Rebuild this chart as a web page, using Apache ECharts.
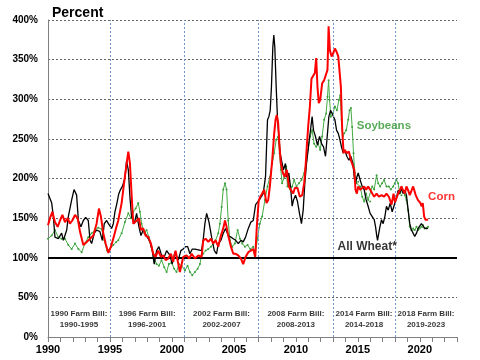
<!DOCTYPE html>
<html><head><meta charset="utf-8">
<script src="https://cdn.jsdelivr.net/npm/echarts@6/dist/echarts.min.js"></script>
<style>html,body{margin:0;padding:0;background:#fff}#c{width:480px;height:360px}</style>
</head><body><div id="c"></div><script>
const wheatYears=[1990.00,1990.30,1990.43,1990.56,1990.83,1991.10,1991.24,1991.51,1991.64,1991.91,1992.10,1992.31,1992.45,1992.66,1992.85,1993.04,1993.25,1993.39,1993.52,1993.74,1993.92,1994.19,1994.38,1994.54,1994.73,1994.87,1995.13,1995.27,1995.40,1995.55,1995.70,1995.85,1996.00,1996.20,1996.34,1996.48,1996.61,1996.74,1996.96,1997.15,1997.34,1997.50,1997.68,1997.95,1998.22,1998.41,1998.57,1998.76,1998.95,1999.16,1999.38,1999.57,1999.84,2000.02,2000.24,2000.51,2000.72,2000.91,2001.10,2001.27,2001.45,2001.64,2001.86,2002.13,2002.39,2002.53,2002.66,2002.80,2002.99,2003.20,2003.42,2003.60,2003.74,2003.95,2004.14,2004.33,2004.54,2004.76,2004.95,2005.14,2005.35,2005.57,2005.75,2005.94,2006.16,2006.37,2006.56,2006.75,2006.91,2007.05,2007.20,2007.36,2007.55,2007.71,2007.82,2007.93,2008.03,2008.14,2008.22,2008.30,2008.41,2008.52,2008.63,2008.73,2008.84,2009.00,2009.16,2009.27,2009.43,2009.59,2009.70,2009.81,2009.97,2010.13,2010.29,2010.45,2010.59,2010.72,2010.86,2011.04,2011.21,2011.31,2011.42,2011.58,2011.74,2011.91,2012.07,2012.23,2012.39,2012.55,2012.66,2012.80,2012.95,2013.15,2013.28,2013.42,2013.55,2013.68,2013.82,2013.95,2014.11,2014.28,2014.44,2014.60,2014.71,2014.81,2014.92,2015.03,2015.19,2015.35,2015.51,2015.67,2015.83,2015.99,2016.16,2016.32,2016.43,2016.53,2016.59,2016.70,2016.78,2016.91,2017.04,2017.18,2017.31,2017.45,2017.61,2017.77,2017.93,2018.11,2018.25,2018.38,2018.52,2018.65,2018.79,2018.92,2019.06,2019.19,2019.32,2019.46,2019.59,2019.73,2019.86,2019.99,2020.13,2020.27,2020.40,2020.53,2020.67];
const wheatValues=[181,169,152,126,124,131,122,135,152,173,186,179,147,139,147,151,147,122,118,131,135,133,122,143,147,143,137,143,158,168,180,186,190,200,222,211,177,152,143,156,139,128,135,128,120,109,92,109,114,103,101,109,103,92,107,97,109,111,114,114,105,111,111,110,109,124,143,156,145,126,109,105,118,122,131,137,128,126,124,122,118,122,120,126,137,145,147,167,165,173,175,181,202,274,278,286,316,366,381,366,316,274,253,232,223,211,219,202,207,186,165,173,179,171,156,143,160,194,219,244,265,278,261,253,242,253,244,240,228,257,278,286,284,274,261,257,249,240,232,236,228,223,228,219,202,194,202,207,198,190,186,173,165,156,152,148,139,127,122,132,139,148,143,152,165,160,169,158,160,175,185,181,188,181,185,179,160,143,135,131,127,131,137,139,143,141,137,135,137];

const cornYears=[1990.00,1990.16,1990.35,1990.56,1990.78,1990.97,1991.16,1991.37,1991.59,1991.77,1991.96,1992.18,1992.39,1992.58,1992.85,1993.12,1993.39,1993.66,1993.92,1994.11,1994.27,1994.46,1994.65,1994.87,1995.08,1995.30,1995.50,1995.67,1995.94,1996.21,1996.39,1996.48,1996.61,1996.74,1996.88,1997.01,1997.17,1997.34,1997.50,1997.68,1997.87,1998.09,1998.30,1998.49,1998.68,1998.89,1999.11,1999.30,1999.49,1999.70,1999.92,2000.10,2000.29,2000.45,2000.64,2000.91,2001.18,2001.40,2001.59,2001.86,2002.13,2002.39,2002.53,2002.72,2002.93,2003.15,2003.33,2003.52,2003.74,2003.95,2004.14,2004.28,2004.41,2004.54,2004.76,2004.95,2005.14,2005.35,2005.57,2005.75,2005.94,2006.16,2006.37,2006.56,2006.72,2006.85,2007.00,2007.12,2007.28,2007.44,2007.63,2007.77,2007.90,2008.09,2008.25,2008.36,2008.46,2008.57,2008.68,2008.79,2008.95,2009.11,2009.27,2009.43,2009.59,2009.78,2009.92,2010.13,2010.32,2010.51,2010.67,2010.78,2010.88,2010.99,2011.13,2011.26,2011.39,2011.53,2011.64,2011.74,2011.85,2011.96,2012.12,2012.28,2012.44,2012.55,2012.64,2012.74,2012.88,2013.01,2013.15,2013.28,2013.42,2013.55,2013.63,2013.74,2013.85,2013.95,2014.11,2014.28,2014.44,2014.60,2014.71,2014.81,2014.92,2015.03,2015.19,2015.35,2015.51,2015.67,2015.83,2015.99,2016.16,2016.32,2016.51,2016.70,2016.91,2017.12,2017.31,2017.50,2017.72,2017.88,2018.00,2018.11,2018.25,2018.38,2018.52,2018.65,2018.79,2018.92,2019.06,2019.19,2019.32,2019.46,2019.59,2019.67,2019.84,2019.94,2020.05,2020.13,2020.24,2020.35,2020.45,2020.56,2020.67];
const cornValues=[141,150,158,145,139,147,154,145,150,143,147,154,150,133,116,120,124,128,143,162,152,131,118,106,114,126,138,147,169,203,224,234,219,181,143,141,147,150,135,137,128,126,118,105,101,109,101,103,97,99,105,95,109,97,82,101,103,99,105,99,103,101,122,124,120,124,118,122,114,128,137,147,139,128,114,105,105,103,99,92,101,107,109,111,101,140,172,177,181,186,169,173,190,223,257,274,280,270,240,219,207,202,211,190,188,181,188,188,177,179,194,215,240,265,291,326,326,333,352,316,295,299,320,324,326,337,392,362,354,358,364,360,354,352,316,261,232,236,232,234,223,223,211,186,181,190,186,188,190,186,190,186,181,177,181,177,179,177,181,177,167,181,170,175,181,185,190,185,181,190,185,179,181,190,190,179,173,175,169,165,169,152,148,146,148];

const soyYears=[1990.00,1990.30,1990.56,1990.83,1991.10,1991.37,1991.64,1991.91,1992.18,1992.45,1992.72,1992.98,1993.25,1993.52,1993.79,1994.06,1994.33,1994.54,1994.76,1995.00,1995.27,1995.50,1995.67,1995.94,1996.21,1996.48,1996.69,1996.88,1997.07,1997.28,1997.42,1997.55,1997.77,1997.95,1998.14,1998.36,1998.57,1998.76,1998.95,1999.16,1999.38,1999.57,1999.75,1999.97,2000.18,2000.37,2000.56,2000.78,2001.05,2001.26,2001.45,2001.64,2001.86,2002.07,2002.26,2002.39,2002.53,2002.72,2002.93,2003.15,2003.33,2003.52,2003.74,2003.87,2004.01,2004.14,2004.28,2004.41,2004.54,2004.68,2004.87,2005.08,2005.30,2005.49,2005.67,2005.89,2006.10,2006.32,2006.56,2006.72,2006.91,2007.09,2007.28,2007.50,2007.71,2007.90,2008.09,2008.25,2008.41,2008.57,2008.68,2008.79,2008.89,2009.06,2009.22,2009.32,2009.43,2009.54,2009.70,2009.86,2010.05,2010.24,2010.45,2010.67,2010.86,2010.99,2011.15,2011.31,2011.47,2011.64,2011.80,2011.96,2012.12,2012.28,2012.44,2012.55,2012.64,2012.72,2012.82,2012.99,2013.15,2013.31,2013.47,2013.58,2013.68,2013.79,2013.90,2014.06,2014.22,2014.33,2014.44,2014.54,2014.65,2014.76,2014.89,2015.03,2015.19,2015.35,2015.51,2015.67,2015.83,2015.99,2016.16,2016.32,2016.51,2016.64,2016.80,2016.96,2017.12,2017.31,2017.50,2017.66,2017.85,2017.98,2018.11,2018.25,2018.38,2018.52,2018.65,2018.79,2018.92,2019.06,2019.19,2019.32,2019.46,2019.59,2019.73,2019.86,2019.99,2020.13,2020.27,2020.40,2020.53,2020.67];
const soyValues=[124,128,135,126,124,124,116,111,118,111,107,118,126,131,135,138,136,122,109,111,116,120,122,131,145,156,150,158,162,169,158,143,131,135,126,114,99,92,90,97,88,82,92,94,86,82,92,90,84,90,82,78,82,86,92,103,105,109,111,114,118,122,131,143,164,186,194,186,147,122,114,118,135,124,118,114,116,111,114,104,125,143,152,173,190,202,219,232,249,253,232,211,194,202,215,190,202,186,190,198,190,194,198,207,223,236,253,261,244,240,244,236,253,274,282,303,324,299,278,282,291,286,299,305,274,253,257,261,274,286,289,265,232,207,194,196,190,177,171,181,173,171,190,186,204,194,190,194,198,190,190,186,190,194,198,194,181,179,185,179,173,160,139,135,137,135,139,135,137,139,141,137,137,139];

const billBounds=[1990,1995,2001,2007,2013,2018,2023];
const billNames=['1990 Farm Bill:','1996 Farm Bill:','2002 Farm Bill:','2008 Farm Bill:','2014 Farm Bill:','2018 Farm Bill:'];
const billSpans=['1990-1995','1996-2001','2002-2007','2008-2013','2014-2018','2019-2023'];
const xLabelYears=[1990,1995,2000,2005,2010,2015,2020];

const zip=(a,b)=>a.map((x,i)=>[x,b[i]]);
const FONT='"Liberation Sans", Arial, sans-serif';
const chart=echarts.init(document.getElementById('c'),null,{renderer:'canvas'});
const billLabelData=billNames.map((n,i)=>({value:[(billBounds[i]+billBounds[i+1])/2,22],name:n+'\n'+billSpans[i]}));
chart.setOption({
  animation:false,
  backgroundColor:'#fff',
  title:{text:'Percent',left:47,top:1,textStyle:{fontFamily:FONT,fontSize:14,fontWeight:'bold',color:'#000'}},
  grid:{left:48,right:23,top:20,bottom:23,containLabel:false},
  xAxis:{type:'value',min:1990,max:2023,interval:1,
    axisLine:{lineStyle:{color:'#808080',width:1}},
    axisTick:{show:true,length:5,lineStyle:{color:'#808080'}},
    axisLabel:{fontFamily:FONT,fontSize:11,fontWeight:'bold',color:'#000',margin:7,
      formatter:v=>xLabelYears.indexOf(Math.round(v))>=0?String(Math.round(v)):''},
    splitLine:{show:false}},
  yAxis:{type:'value',min:0,max:400,interval:50,
    axisLine:{show:true,lineStyle:{color:'#808080',width:1}},
    axisTick:{show:false},
    axisLabel:{fontFamily:FONT,fontSize:10,fontWeight:'bold',color:'#000',margin:10,formatter:v=>v+'%'},
    splitLine:{show:true,lineStyle:{color:'#666',type:[2,2],width:1}}},
  series:[
    {name:'Soybeans',type:'line',data:zip(soyYears,soyValues),color:'#3a9e3a',
      lineStyle:{width:1,color:'#44aa44'},showSymbol:true,symbol:'circle',symbolSize:2,
      itemStyle:{color:'#3a9e3a'},z:3,
      markLine:{silent:true,symbol:['none','none'],label:{show:false},
        data:[{yAxis:100,lineStyle:{color:'#000',width:2,type:'solid'}}].concat(
          billBounds.slice(1,-1).map(b=>({xAxis:b,lineStyle:{color:'#6f97c9',width:1,type:[2,2]}})))}},
    {name:'All Wheat*',type:'line',data:zip(wheatYears,wheatValues),color:'#000',
      lineStyle:{width:1.3,color:'#000'},showSymbol:false,z:4},
    {name:'Corn',type:'line',data:zip(cornYears,cornValues),color:'#ff0000',
      lineStyle:{width:2,color:'#ff0000'},showSymbol:false,z:5},
    {name:'bills',type:'scatter',data:billLabelData,symbolSize:0,silent:true,z:6,
      label:{show:true,position:'inside',formatter:p=>p.name,fontFamily:FONT,fontSize:8,fontWeight:'bold',color:'#000',lineHeight:11,align:'center'}},
    {name:'names',type:'scatter',symbolSize:0,silent:true,z:7,
      data:[
        {value:[2017.1,266],name:'Soybeans',label:{color:'#2f962f',fontSize:11.5}},
        {value:[2021.75,177],name:'Corn',label:{color:'#ff0000',fontSize:11.5}},
        {value:[2015.75,114],name:'All Wheat*',label:{color:'#000',fontSize:12}}],
      label:{show:true,position:'inside',formatter:p=>p.name,fontFamily:FONT,fontWeight:'bold'}}
  ]
});
</script></body></html>
